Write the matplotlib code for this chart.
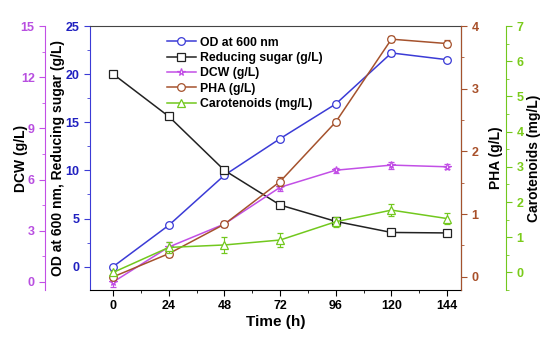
import numpy as np
import matplotlib
matplotlib.use('Agg')
import matplotlib.pyplot as plt
from matplotlib.ticker import MultipleLocator

plt.rcParams['font.family'] = ['Liberation Sans', 'DejaVu Sans']
plt.rcParams['font.weight'] = 'bold'

time_h = [0, 24, 48, 72, 96, 120, 144]
od600 = [0.0, 4.3, 9.5, 13.3, 16.9, 22.2, 21.5]
od600_err = [0.1, 0.15, 0.3, 0.2, 0.2, 0.3, 0.2]
sugar = [20.0, 15.6, 10.0, 6.4, 4.7, 3.55, 3.5]
sugar_err = [0.1, 0.2, 0.3, 0.2, 0.3, 0.15, 0.15]
dcw = [0.0, 2.05, 3.4, 5.55, 6.55, 6.85, 6.75]
dcw_err = [0.3, 0.3, 0.15, 0.2, 0.15, 0.2, 0.15]
pha = [0.0, 0.37, 0.84, 1.52, 2.47, 3.79, 3.72]
pha_err = [0.05, 0.05, 0.05, 0.07, 0.05, 0.05, 0.05]
carot = [0.0, 0.71, 0.78, 0.92, 1.44, 1.77, 1.53]
carot_err = [0.05, 0.15, 0.24, 0.2, 0.14, 0.17, 0.15]

c_od = '#3b3bd6'
c_sugar = '#222222'
c_dcw = '#c24fe6'
c_pha = '#a5522d'
c_car = '#72c81e'
lab_od = '#2020c0'
lab_dcw = '#b84fe0'
lab_pha = '#a8502a'
lab_car = '#7acb1a'

fig = plt.figure(figsize=(5.5, 3.39), dpi=100)
ax = fig.add_axes([0.1636, 0.1445, 0.6746, 0.7788])
ax_dcw = ax.twinx()
ax_pha = ax.twinx()
ax_car = ax.twinx()

mk = dict(markersize=5.5, markerfacecolor='white', markeredgewidth=0.9,
          linewidth=1.1, capsize=2, elinewidth=0.8)

h_od = ax.errorbar(time_h, od600, yerr=od600_err, color=c_od, marker='o', **mk)
h_su = ax.errorbar(time_h, sugar, yerr=sugar_err, color=c_sugar, marker='s', **mk)
h_dc = ax_dcw.errorbar(time_h, dcw, yerr=dcw_err, color=c_dcw, marker='*', **mk)
h_ph = ax_pha.errorbar(time_h, pha, yerr=pha_err, color=c_pha, marker='o', **mk)
h_ca = ax_car.errorbar(time_h, carot, yerr=carot_err, color=c_car, marker='^', **mk)

ax.set_xlim(-10, 150)
ax.set_ylim(-2.43, 25)
ax_dcw.set_ylim(-0.47, 15)
ax_pha.set_ylim(-0.21, 4)
ax_car.set_ylim(-0.5, 7)

ax.set_xticks(time_h)
ax.xaxis.set_minor_locator(MultipleLocator(12))
ax.tick_params(axis='x', which='both', direction='out', top=False, labelsize=9)
ax.tick_params(axis='x', which='major', length=4)
ax.tick_params(axis='x', which='minor', length=2)
ax.spines['top'].set_color('#444444')
ax.set_xlabel('Time (h)', fontsize=11, fontweight='bold', labelpad=2)

# left main axis (OD / sugar)
ax.yaxis.set_major_locator(MultipleLocator(5))
ax.yaxis.set_minor_locator(MultipleLocator(2.5))
ax.tick_params(axis='y', which='both', direction='out', colors=c_od,
               labelcolor=lab_od, labelsize=9)
ax.tick_params(axis='y', which='major', length=4)
ax.tick_params(axis='y', which='minor', length=2)
ax.spines['left'].set_color(c_od)
ax.set_ylabel('OD at 600 nm, Reducing sugar (g/L)', fontsize=10,
              fontweight='bold')
ax.yaxis.set_label_coords(-0.067, 0.5)

# DCW axis on the far left
ax_dcw.yaxis.set_label_position('left')
ax_dcw.yaxis.set_ticks_position('left')
ax_dcw.spines['left'].set_position(('axes', -0.121))
ax_dcw.spines['left'].set_visible(True)
ax_dcw.spines['left'].set_color(c_dcw)
for s in ['right', 'top', 'bottom']:
    ax_dcw.spines[s].set_visible(False)
ax_dcw.yaxis.set_major_locator(MultipleLocator(3))
ax_dcw.yaxis.set_minor_locator(MultipleLocator(1.5))
ax_dcw.tick_params(axis='y', which='both', direction='out', colors=c_dcw,
                   labelcolor=lab_dcw, labelsize=9)
ax_dcw.tick_params(axis='y', which='major', length=4)
ax_dcw.tick_params(axis='y', which='minor', length=2)
ax_dcw.set_ylabel('DCW (g/L)', fontsize=10, fontweight='bold')
ax_dcw.yaxis.set_label_coords(-0.167, 0.5)

# PHA axis on the right spine
for s in ['left', 'top', 'bottom']:
    ax_pha.spines[s].set_visible(False)
ax_pha.spines['right'].set_color(c_pha)
ax_pha.yaxis.set_major_locator(MultipleLocator(1))
ax_pha.yaxis.set_minor_locator(MultipleLocator(0.5))
ax_pha.tick_params(axis='y', which='both', direction='out', colors=c_pha,
                   labelcolor=lab_pha, labelsize=9)
ax_pha.tick_params(axis='y', which='major', length=4)
ax_pha.tick_params(axis='y', which='minor', length=2)
ax_pha.set_ylabel('PHA (g/L)', fontsize=10, fontweight='bold')
ax_pha.yaxis.set_label_coords(1.075, 0.5)

# carotenoids axis offset right
for s in ['left', 'top', 'bottom']:
    ax_car.spines[s].set_visible(False)
ax_car.spines['right'].set_position(('axes', 1.121))
ax_car.spines['right'].set_color(c_car)
ax_car.yaxis.set_major_locator(MultipleLocator(1))
ax_car.yaxis.set_minor_locator(MultipleLocator(0.5))
ax_car.tick_params(axis='y', which='both', direction='out', colors=c_car,
                   labelcolor=lab_car, labelsize=9)
ax_car.tick_params(axis='y', which='major', length=4)
ax_car.tick_params(axis='y', which='minor', length=2)
ax_car.set_ylabel('Carotenoids (mg/L)', fontsize=10, fontweight='bold')
ax_car.yaxis.set_label_coords(1.178, 0.5)

for a in [ax, ax_dcw, ax_pha, ax_car]:
    for t in a.get_yticklabels() + a.get_xticklabels():
        t.set_fontweight('bold')

handles = [h_od, h_su, h_dc, h_ph, h_ca]
labels = ['OD at 600 nm', 'Reducing sugar (g/L)', 'DCW (g/L)', 'PHA (g/L)',
          'Carotenoids (mg/L)']
ax_car.legend([h[0] for h in handles], labels, loc='upper left',
              bbox_to_anchor=(0.292, 0.91), bbox_transform=fig.transFigure,
              frameon=False, fontsize=8.8, handlelength=2.4, labelspacing=0.27,
              handletextpad=0.35, borderpad=0.0)

fig.savefig('out.png', dpi=100)
